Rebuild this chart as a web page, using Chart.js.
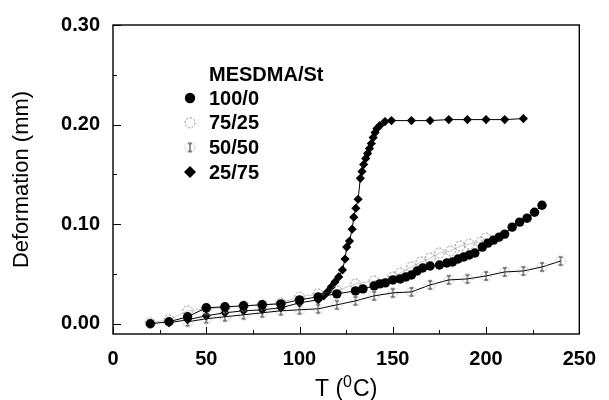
<!DOCTYPE html>
<html>
<head>
<meta charset="utf-8">
<script src="https://cdn.jsdelivr.net/npm/chart.js@4/dist/chart.umd.min.js"></script>
<style>
  html, body { margin: 0; padding: 0; background: #fff; }
  #c { display: block; }
</style>
</head>
<body>
<canvas id="c" width="609" height="400"></canvas>
<script>
// Deformation vs temperature for MESDMA/St copolymers

const legendTitle = 'MESDMA/St';
const seriesLabels = ['100/0', '75/25', '50/50', '25/75'];

const temps100 = [20, 30, 40, 50, 60, 70, 80, 90, 100, 110, 120, 130, 134, 140, 143, 146, 150, 154, 157, 160, 163, 166, 170, 175, 179, 182, 185, 188, 191, 194, 198, 201, 204, 207, 210, 214, 218, 222, 226, 230];
const defo100  = [0.000, 0.002, 0.007, 0.016, 0.017, 0.018, 0.019, 0.020, 0.024, 0.027, 0.030, 0.033, 0.035, 0.038, 0.040, 0.041, 0.044, 0.045, 0.047, 0.049, 0.053, 0.056, 0.058, 0.059, 0.061, 0.062, 0.065, 0.067, 0.069, 0.071, 0.077, 0.081, 0.084, 0.087, 0.090, 0.097, 0.102, 0.106, 0.112, 0.119];

const temps75 = [20, 30, 40, 50, 60, 70, 80, 90, 100, 110, 120, 130, 140, 150, 154, 160, 165, 170, 175, 181, 186, 191, 197, 200];
const defo75  = [0.001, 0.004, 0.013, 0.015, 0.016, 0.018, 0.019, 0.021, 0.027, 0.030, 0.033, 0.040, 0.043, 0.047, 0.051, 0.057, 0.062, 0.066, 0.071, 0.073, 0.078, 0.080, 0.082, 0.086];

const temps50 = [40, 50, 60, 70, 80, 90, 100, 110, 120, 130, 140, 150, 160, 170, 180, 190, 200, 210, 220, 230, 240];
const defo50  = [0.002, 0.005, 0.007, 0.009, 0.011, 0.013, 0.014, 0.015, 0.019, 0.023, 0.028, 0.031, 0.032, 0.039, 0.044, 0.045, 0.048, 0.052, 0.053, 0.057, 0.063];

const temps25 = [30, 40, 50, 60, 70, 80, 90, 100, 110, 113, 115, 117, 119, 121, 123, 124.4, 125.3, 126.8, 128.2, 129.1, 130.2, 131.4, 132.6, 133.5, 134.4, 135.5, 136.5, 137.5, 138.5, 139.5, 140.5, 141.5, 143, 145.8, 149.3, 160, 170, 180, 190, 200, 210, 220];
const defo25  = [0.001, 0.004, 0.008, 0.011, 0.013, 0.014, 0.016, 0.021, 0.024, 0.028, 0.032, 0.037, 0.042, 0.047, 0.054, 0.065, 0.077, 0.083, 0.095, 0.107, 0.116, 0.125, 0.146, 0.153, 0.160, 0.166, 0.171, 0.176, 0.181, 0.187, 0.192, 0.196, 0.199, 0.203, 0.204, 0.204, 0.204, 0.205, 0.205, 0.205, 0.205, 0.206];

const xTickValues = [0, 50, 100, 150, 200, 250];
const yTickValues = [0, 0.1, 0.2, 0.3];

function toPoints(xs, ys) { return xs.map((x, i) => ({ x: x, y: ys[i] })); }

// Open marker drawn as a dashed grey ring
function dashedRing(r) {
  const s = Math.ceil(r * 2 + 4);
  const cv = document.createElement('canvas');
  cv.width = s; cv.height = s;
  const g = cv.getContext('2d');
  g.strokeStyle = '#8c8c8c';
  g.lineWidth = 1;
  g.setLineDash([2.2, 1.6]);
  g.beginPath();
  g.arc(s / 2, s / 2, r, 0, Math.PI * 2);
  g.stroke();
  return cv;
}

// Dotted ring with a small I-beam in the middle
function dottedRingBeam(r) {
  const s = Math.ceil(r * 2 + 4);
  const cv = document.createElement('canvas');
  cv.width = s; cv.height = s;
  const g = cv.getContext('2d');
  const c = s / 2;
  g.strokeStyle = '#a0a0a0';
  g.lineWidth = 1;
  g.setLineDash([1.2, 1.4]);
  g.beginPath();
  g.arc(c, c, r, 0, Math.PI * 2);
  g.stroke();
  g.setLineDash([]);
  g.strokeStyle = '#333';
  g.beginPath();
  g.moveTo(c, c - r + 1); g.lineTo(c, c + r - 1);
  g.moveTo(c - 2, c - r + 1); g.lineTo(c + 2, c - r + 1);
  g.moveTo(c - 2, c + r - 1); g.lineTo(c + 2, c + r - 1);
  g.stroke();
  return cv;
}

const ring75 = dashedRing(5);
const ring50 = dottedRingBeam(5);

const datasets = [
  {
    label: seriesLabels[0],
    data: toPoints(temps100, defo100),
    showLine: true,
    borderColor: '#000', borderWidth: 1,
    pointStyle: 'circle', pointRadius: 4.7,
    pointBackgroundColor: '#000', pointBorderColor: '#000', pointBorderWidth: 0
  },
  {
    label: seriesLabels[1],
    data: toPoints(temps75, defo75),
    showLine: true,
    borderColor: 'rgba(120,120,120,0.5)', borderWidth: 0.8,
    pointStyle: ring75, pointRadius: 5
  },
  {
    label: seriesLabels[2],
    data: toPoints(temps50, defo50),
    showLine: true,
    borderColor: '#000', borderWidth: 1,
    pointStyle: ring50, pointRadius: 5
  },
  {
    label: seriesLabels[3],
    data: toPoints(temps25, defo25),
    showLine: true,
    borderColor: '#000', borderWidth: 1,
    pointStyle: 'rectRot', pointRadius: 4.6,
    pointBackgroundColor: '#000', pointBorderColor: '#000', pointBorderWidth: 0
  }
];

const FONT = 'Arial, "Liberation Sans", Helvetica, sans-serif';

// Frame, inward ticks, axis titles and the legend block
const decorPlugin = {
  id: 'decor',
  afterDraw(chart) {
    const ctx = chart.ctx;
    const a = chart.chartArea;
    const xs = chart.scales.x, ys = chart.scales.y;
    ctx.save();
    ctx.strokeStyle = '#000';
    ctx.lineWidth = 1.4;
    ctx.strokeRect(a.left, a.top, a.right - a.left, a.bottom - a.top);

    ctx.lineWidth = 1;
    ctx.beginPath();
    for (let v = 0; v <= 250; v += 25) {
      const px = Math.round(xs.getPixelForValue(v)) + 0.5;
      const len = (v % 50 === 0) ? 7 : 4;
      ctx.moveTo(px, a.bottom); ctx.lineTo(px, a.bottom - len);
    }
    for (let k = 0; k <= 6; k++) {
      const v = k * 0.05;
      const py = Math.round(ys.getPixelForValue(v)) + 0.5;
      const len = (k % 2 === 0) ? 8 : 4;
      ctx.moveTo(a.left, py); ctx.lineTo(a.left + len, py);
    }
    ctx.stroke();

    // y axis title
    ctx.fillStyle = '#000';
    ctx.font = '22px ' + FONT;
    ctx.textAlign = 'center';
    ctx.textBaseline = 'middle';
    ctx.save();
    ctx.translate(22, (a.top + a.bottom) / 2);
    ctx.rotate(-Math.PI / 2);
    ctx.fillText('Deformation (mm)', 0, 0);
    ctx.restore();

    // x axis title with superscript degree zero
    const cx = (a.left + a.right) / 2;
    const ty = 388;
    const big = '23px ' + FONT, small = '16px ' + FONT;
    ctx.font = big;
    const w1 = ctx.measureText('T (').width;
    const w3 = ctx.measureText('C)').width;
    ctx.font = small;
    const w2 = ctx.measureText('0').width + 1;
    let x0 = cx - (w1 + w2 + w3) / 2;
    ctx.textAlign = 'left';
    ctx.textBaseline = 'alphabetic';
    ctx.font = big;
    ctx.fillText('T (', x0, ty + 8);
    ctx.font = small;
    ctx.fillText('0', x0 + w1, ty - 1);
    ctx.font = big;
    ctx.fillText('C)', x0 + w1 + w2, ty + 8);

    // legend
    ctx.font = 'bold 20px ' + FONT;
    ctx.textBaseline = 'middle';
    ctx.fillText(legendTitle, 209, 75);
    const mx = 190;
    chart.data.datasets.forEach((ds, i) => {
      const y = 98 + i * 24.7;
      const st = ds.pointStyle;
      if (st === 'circle') {
        ctx.beginPath();
        ctx.arc(mx, y, 5.2, 0, Math.PI * 2);
        ctx.fill();
      } else if (st === 'rectRot') {
        ctx.beginPath();
        ctx.moveTo(mx, y - 6); ctx.lineTo(mx + 6, y);
        ctx.lineTo(mx, y + 6); ctx.lineTo(mx - 6, y);
        ctx.closePath(); ctx.fill();
      } else {
        ctx.drawImage(st, mx - st.width / 2, y - st.height / 2);
      }
      ctx.fillText(ds.label, 209, y + 1);
    });
    ctx.restore();
  }
};

new Chart(document.getElementById('c'), {
  type: 'scatter',
  data: { datasets: datasets },
  options: {
    responsive: false,
    animation: false,
    devicePixelRatio: 1,
    layout: { padding: { left: 0, top: 22, right: 21, bottom: 0 } },
    plugins: { legend: { display: false }, tooltip: { enabled: false } },
    elements: { line: { tension: 0 } },
    scales: {
      x: {
        type: 'linear',
        min: 0, max: 250,
        afterFit(s) { s.height = 66; },
        afterBuildTicks(s) { s.ticks = xTickValues.map(v => ({ value: v })); },
        grid: { display: false, drawTicks: false },
        border: { display: false },
        ticks: {
          padding: 13, autoSkip: false, maxRotation: 0, color: '#000',
          font: { family: FONT, size: 20, weight: 'bold' }
        }
      },
      y: {
        type: 'linear',
        min: -0.0103, max: 0.30,
        afterFit(s) { s.width = 113; },
        afterBuildTicks(s) { s.ticks = yTickValues.map(v => ({ value: v })); },
        grid: { display: false, drawTicks: false },
        border: { display: false },
        ticks: {
          padding: 13, color: '#000',
          font: { family: FONT, size: 20, weight: 'bold' },
          callback: v => v.toFixed(2)
        }
      }
    }
  },
  plugins: [decorPlugin]
});
</script>
</body>
</html>
